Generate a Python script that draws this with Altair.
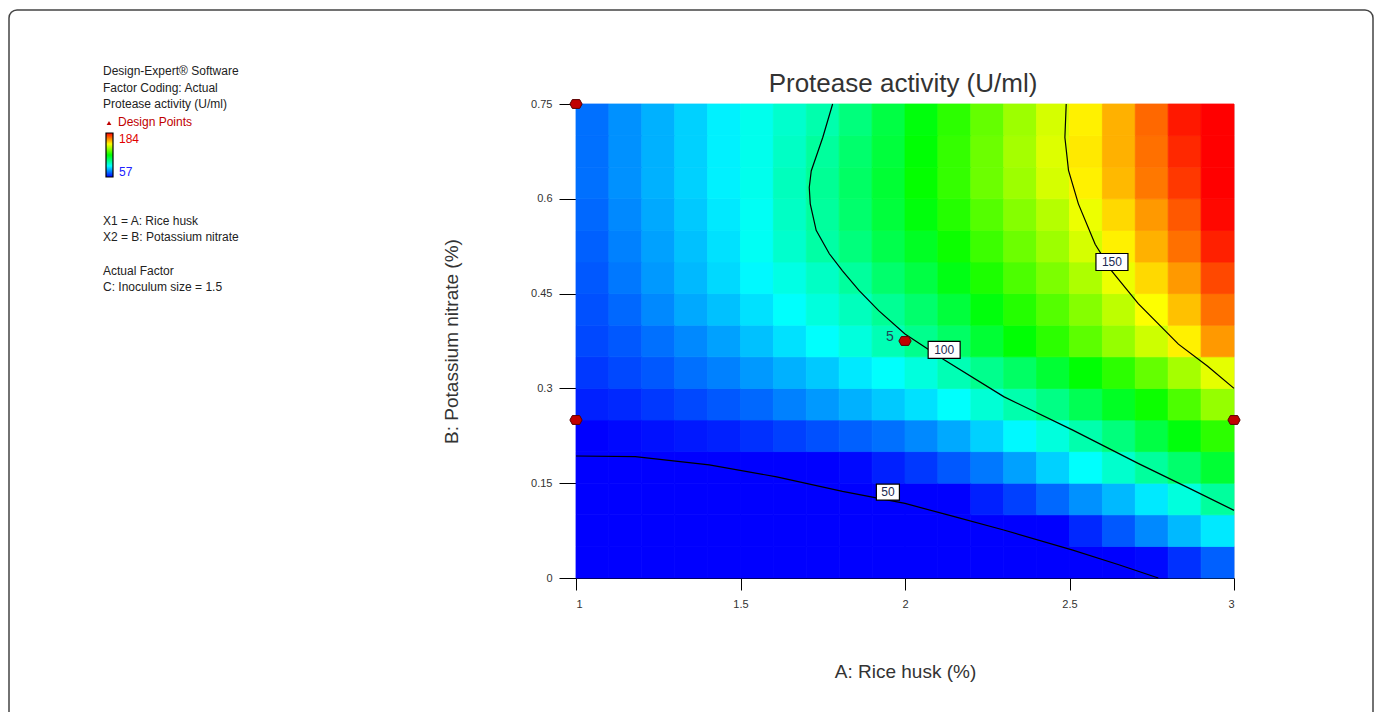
import altair as alt
import pandas as pd

FONT = "Liberation Sans"

# ---------------- data ----------------
# cell centres of the response grid (A: Rice husk %, B: Potassium nitrate %)
A_CENTERS = [1.05, 1.15, 1.25, 1.35, 1.45, 1.55, 1.65, 1.75, 1.85, 1.95,
             2.05, 2.15, 2.25, 2.35, 2.45, 2.55, 2.65, 2.75, 2.85, 2.95]
B_CENTERS = [0.025, 0.075, 0.125, 0.175, 0.225, 0.275, 0.325, 0.375,
             0.425, 0.475, 0.525, 0.575, 0.625, 0.675, 0.725]

# estimated protease activity (U/ml), one list per B row (bottom to top)
act_b0025 = [12, 14, 16, 18, 20, 23, 25, 28, 30, 33, 35, 38, 41, 43, 46, 48, 53, 58, 63, 69]
act_b0075 = [24, 26, 27, 29, 31, 33, 35, 38, 40, 43, 45, 47, 49, 52, 57, 62, 68, 74, 80, 86]
act_b0125 = [36, 37, 38, 40, 42, 44, 46, 48, 49, 51, 54, 57, 61, 65, 70, 75, 80, 86, 93, 101]
act_b0175 = [47, 48, 49, 49.5, 50, 52, 54, 56, 58, 61, 64, 68, 72, 77, 83, 89, 95, 101, 107, 114]
act_b0225 = [57, 58, 59, 60, 61, 63, 65, 67, 69, 71, 74, 78, 83, 88, 93, 99, 105, 112, 119, 126]
act_b0275 = [61, 62, 64, 66, 68, 70, 73, 76, 79, 82, 85, 89, 94, 99, 104, 110, 116, 122, 130, 139]
act_b0325 = [64, 66, 68, 71, 73, 76, 79, 82, 86, 89, 93, 98, 103, 108, 114, 120, 126, 133, 141, 149]
act_b0375 = [66, 68, 71, 74, 77, 81, 85, 89, 93, 98, 103, 108, 114, 120, 126, 132, 139, 146, 154, 165]
act_b0425 = [67, 70, 74, 78, 81, 85, 89, 93, 97, 102, 107, 113, 119, 125, 131, 137, 144, 152, 160, 170]
act_b0475 = [68, 72, 76, 80, 84, 88, 92, 96, 101, 107, 112, 118, 124, 130, 136, 142, 150, 157, 165, 175]
act_b0525 = [69, 73, 77, 81, 85, 90, 95, 100, 105, 111, 116, 122, 128, 134, 140, 147, 154, 162, 170, 180]
act_b0575 = [70, 74, 78, 82, 86, 90, 96, 101, 107, 113, 119, 125, 131, 137, 143, 150, 157, 165, 173, 183]
act_b0625 = [71, 75, 79, 83, 87, 91, 97, 102, 108, 114, 121, 127, 134, 140, 147, 154, 161, 169, 177, 186]
act_b0675 = [71, 75, 79, 83, 87, 91, 96, 101, 107, 113, 120, 127, 134, 141, 148, 155, 162, 170, 179, 188]
act_b0725 = [71, 75, 79, 83, 87, 91, 95, 99, 105, 112, 119, 126, 133, 140, 147, 154, 162, 171, 181, 191]
ACTIVITY = [act_b0025, act_b0075, act_b0125, act_b0175, act_b0225, act_b0275, act_b0325,
            act_b0375, act_b0425, act_b0475, act_b0525, act_b0575, act_b0625, act_b0675,
            act_b0725]

# contour lines
C50_A = [1.0, 1.18, 1.405, 1.61, 1.81, 2.0, 2.15, 2.3, 2.51, 2.65, 2.77]
C50_B = [0.193, 0.192, 0.179, 0.16, 0.137, 0.118, 0.097, 0.076, 0.044, 0.021, 0.0]
C100_A = [1.78, 1.75, 1.715, 1.709, 1.712, 1.73, 1.77, 1.81, 1.86, 1.92, 2.0, 2.12,
          2.30, 2.51, 2.71, 2.86, 3.0]
C100_B = [0.75, 0.697, 0.644, 0.618, 0.592, 0.55, 0.513, 0.486, 0.455, 0.423, 0.386,
          0.345, 0.287, 0.234, 0.181, 0.143, 0.107]
C150_A = [2.49, 2.486, 2.497, 2.527, 2.578, 2.628, 2.709, 2.831, 2.92, 3.0]
C150_B = [0.75, 0.697, 0.645, 0.592, 0.528, 0.486, 0.434, 0.37, 0.335, 0.30]

# contour labels
LABEL_TEXT = ["50", "100", "150"]
LABEL_A = [1.948, 2.119, 2.629]
LABEL_B = [0.136, 0.361, 0.5]

# design points
DESIGN_A = [1.0, 1.0, 2.0, 3.0]
DESIGN_B = [0.75, 0.25, 0.375, 0.25]
CENTER_REPS = ["5"]
CENTER_A = [2.0]
CENTER_B = [0.375]

X_TICKS = [1, 1.5, 2, 2.5, 3]
Y_TICKS = [0, 0.15, 0.3, 0.45, 0.6, 0.75]
COLOR_STOPS = [57, 88.75, 120.5, 152.25, 184]

INFO_LINES = ["Design-Expert\u00ae Software", "Factor Coding: Actual",
              "Protease activity  (U/ml)"]
FACTOR_LINES = ["X1 = A: Rice husk", "X2 = B: Potassium nitrate"]
ACTUAL_LINES = ["Actual Factor", "C: Inoculum size = 1.5"]

# ---------------- tables ----------------
half_a = (A_CENTERS[1] - A_CENTERS[0]) / 2
half_b = (B_CENTERS[1] - B_CENTERS[0]) / 2
cells = []
for j, b in enumerate(B_CENTERS):
    for i, a in enumerate(A_CENTERS):
        cells.append({"a0": a - half_a, "a1": a + half_a,
                      "b0": b - half_b, "b1": b + half_b, "v": ACTIVITY[j][i]})
cells = pd.DataFrame(cells)

lines = []
for lvl, xs_, ys_ in [("50", C50_A, C50_B), ("100", C100_A, C100_B), ("150", C150_A, C150_B)]:
    for k, (a, b) in enumerate(zip(xs_, ys_)):
        lines.append({"level": lvl, "k": k, "A": a, "B": b})
lines = pd.DataFrame(lines)

labels = pd.DataFrame({"lab": LABEL_TEXT, "A": LABEL_A, "B": LABEL_B})
design = pd.DataFrame({"A": DESIGN_A, "B": DESIGN_B})
center = pd.DataFrame({"t": CENTER_REPS, "A": CENTER_A, "B": CENTER_B})
one = pd.DataFrame({"k": [0]})

# ---------------- scales / axes ----------------
xs = alt.Scale(domain=[1, 3], nice=False, zero=False)
ys = alt.Scale(domain=[0, 0.75], nice=False, zero=False)
xaxis = alt.Axis(values=X_TICKS, labelExpr="datum.value + ''", title="A: Rice husk (%)",
                 grid=False, tickSize=12, labelPadding=8, labelFontSize=11,
                 labelColor="#333", labelFont=FONT, domainColor="black", tickColor="black",
                 titleFont=FONT, titleFontSize=19, titleFontWeight="normal",
                 titleColor="#333", titleX=329, titleY=99, titleBaseline="alphabetic",
                 titleAlign="center")
yaxis = alt.Axis(values=Y_TICKS, labelExpr="datum.value + ''",
                 title="B: Potassium nitrate (%)", grid=False,
                 tickSize=17, labelPadding=7, labelFontSize=11, labelColor="#333",
                 labelFont=FONT, domainColor="black", tickColor="black",
                 titleFont=FONT, titleFontSize=19, titleFontWeight="normal",
                 titleColor="#333", titleAngle=270, titleX=-119, titleY=237,
                 titleBaseline="alphabetic", titleAlign="center")

color_scale = alt.Scale(type="linear", domain=COLOR_STOPS,
                        range=["#0000ff", "#00ffff", "#00ff00", "#ffff00", "#ff0000"],
                        clamp=True, interpolate="rgb")

heat = alt.Chart(cells).mark_rect(strokeWidth=0.8).encode(
    x=alt.X("a0:Q", scale=xs, axis=xaxis),
    x2="a1:Q",
    y=alt.Y("b0:Q", scale=ys, axis=yaxis),
    y2="b1:Q",
    color=alt.Color("v:Q", scale=color_scale, legend=None),
    stroke=alt.Stroke("v:Q", scale=color_scale, legend=None),
)

contours = alt.Chart(lines).mark_line(color="black", strokeWidth=1.2).encode(
    x=alt.X("A:Q", scale=xs, axis=xaxis),
    y=alt.Y("B:Q", scale=ys, axis=yaxis),
    detail="level:N",
    order="k:Q",
)

box_wide = "M-1,-0.53L1,-0.53L1,0.53L-1,0.53Z"
box_narrow = "M-0.72,-0.5L0.72,-0.5L0.72,0.5L-0.72,0.5Z"
label_boxes = alt.Chart(labels).mark_point(filled=True, color="white", stroke="black",
                                           strokeWidth=1.2, opacity=1, size=1024).encode(
    x=alt.X("A:Q", scale=xs, axis=xaxis),
    y=alt.Y("B:Q", scale=ys, axis=yaxis),
    shape=alt.Shape("lab:N", scale=alt.Scale(domain=LABEL_TEXT,
                                             range=[box_narrow, box_wide, box_wide]),
                    legend=None),
)
label_text = alt.Chart(labels).mark_text(font=FONT, fontSize=12, color="#1c2a52",
                                         baseline="middle", align="center").encode(
    x=alt.X("A:Q", scale=xs, axis=xaxis),
    y=alt.Y("B:Q", scale=ys, axis=yaxis),
    text="lab:N",
)

pt_shape = "M-1,0L-0.6,-0.72L0.6,-0.72L1,0L0.6,0.72L-0.6,0.72Z"
design_pts = alt.Chart(design).mark_point(shape=pt_shape, filled=True, color="#c00000",
                                          stroke="#5a0000", strokeWidth=1, opacity=1,
                                          size=150).encode(
    x=alt.X("A:Q", scale=xs, axis=xaxis),
    y=alt.Y("B:Q", scale=ys, axis=yaxis),
)
center_lab = alt.Chart(center).mark_text(font=FONT, fontSize=14, color="#1f4656",
                                         dx=-15, dy=-4, align="center",
                                         baseline="middle").encode(
    x=alt.X("A:Q", scale=xs, axis=xaxis),
    y=alt.Y("B:Q", scale=ys, axis=yaxis),
    text="t:N",
)


def note(text, x, y, size=12, color="#222", align="left", baseline="middle"):
    return alt.Chart(one).mark_text(text=text, font=FONT, fontSize=size, color=color,
                                    align=align, baseline=baseline).encode(
        x=alt.value(x), y=alt.value(y))


title = note("Protease activity (U/ml)", 327, -12, size=26, color="#333",
             align="center", baseline="alphabetic")

frame = alt.Chart(one).mark_rect(fillOpacity=0, stroke="#444", strokeWidth=1.5,
                                 cornerRadius=8).encode(
    x=alt.value(-567), x2=alt.value(797), y=alt.value(-94), y2=alt.value(660))

notes = []
for k, t in enumerate(INFO_LINES):
    notes.append(note(t, -473, -33 + 16.5 * k))
notes.append(note("Design Points", -458, 18, color="#c00000"))
for k, t in enumerate(FACTOR_LINES):
    notes.append(note(t, -473, 117 + 16 * k))
for k, t in enumerate(ACTUAL_LINES):
    notes.append(note(t, -473, 167 + 16 * k))
notes.append(note(str(COLOR_STOPS[-1]), -457, 35, color="#e00000"))
notes.append(note(str(COLOR_STOPS[0]), -457, 68, color="#2020ff"))

dp_marker = alt.Chart(one).mark_point(shape="triangle-up", filled=True, color="#c00000",
                                      opacity=1, size=22).encode(
    x=alt.value(-467), y=alt.value(19))

bar_grad = alt.LinearGradient(
    gradient="linear", x1=0, x2=0, y1=1, y2=0,
    stops=[alt.GradientStop(color="#0000ff", offset=0),
           alt.GradientStop(color="#00ffff", offset=0.25),
           alt.GradientStop(color="#00ff00", offset=0.5),
           alt.GradientStop(color="#ffff00", offset=0.75),
           alt.GradientStop(color="#ff0000", offset=1)])
colorbar = alt.Chart(one).mark_rect(color=bar_grad, stroke="black", strokeWidth=1.2).encode(
    x=alt.value(-470), x2=alt.value(-463), y=alt.value(29), y2=alt.value(73))

chart = alt.layer(
    frame, heat, contours, label_boxes, label_text, design_pts, center_lab, title,
    colorbar, dp_marker, *notes
).properties(
    width=658, height=474,
    padding={"left": 568, "top": 96, "right": 140, "bottom": 134},
    autosize=alt.AutoSizeParams(type="none"),
).configure_view(stroke="black", strokeWidth=1.2).configure(background="white")

chart.save("out.html", embed_options={"renderer": "svg", "actions": False})
